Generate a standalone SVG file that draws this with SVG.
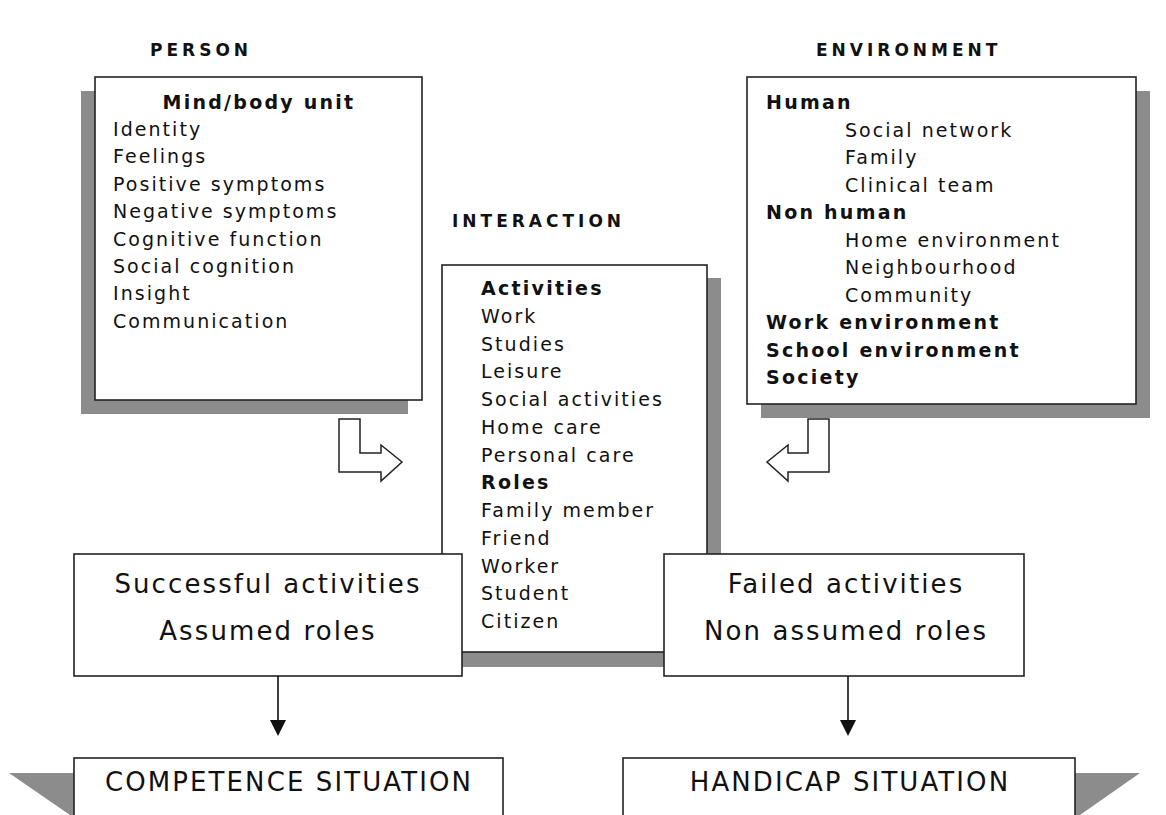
<svg xmlns="http://www.w3.org/2000/svg" width="1166" height="815" viewBox="0 0 1166 815">
  <style>
    .box { fill: #ffffff; stroke: #222222; stroke-width: 1.6; }
    .shadow { fill: #8c8c8c; stroke: none; }
    .blk { fill: #ffffff; stroke: #222222; stroke-width: 1.5; stroke-linejoin: miter; }
    .t { font-family: "DejaVu Sans", Verdana, sans-serif; font-size: 19px; letter-spacing: 2.05px; fill: #111111; }
    .b { font-weight: bold; letter-spacing: 2.25px; }
    .h { font-family: "DejaVu Sans", Verdana, sans-serif; font-size: 17px; font-weight: bold; letter-spacing: 4px; fill: #111111; }
    .big { font-family: "DejaVu Sans", Verdana, sans-serif; font-size: 26px; letter-spacing: 2.1px; fill: #111111; text-anchor: middle; }
    .line { stroke: #111111; stroke-width: 1.6; fill: none; }
    .head { fill: #111111; stroke: none; }
  </style>
  <rect width="1166" height="815" fill="#ffffff"/>

  <!-- column headings -->
  <text class="h" x="150" y="56">PERSON</text>
  <text class="h" x="816" y="56">ENVIRONMENT</text>
  <text class="h" x="452" y="227">INTERACTION</text>

  <!-- person -->
  <g id="person">
    <rect class="shadow" x="81" y="91" width="327" height="323"/>
    <rect class="box" x="95" y="77" width="327" height="323"/>
    <text class="t b" x="259" y="109" text-anchor="middle">Mind/body unit</text>
    <text class="t" x="113" y="136">Identity</text>
    <text class="t" x="113" y="163.4">Feelings</text>
    <text class="t" x="113" y="190.8">Positive symptoms</text>
    <text class="t" x="113" y="218.2">Negative symptoms</text>
    <text class="t" x="113" y="245.6">Cognitive function</text>
    <text class="t" x="113" y="273">Social cognition</text>
    <text class="t" x="113" y="300.4">Insight</text>
    <text class="t" x="113" y="327.8">Communication</text>
  </g>

  <!-- environment -->
  <g id="environment">
    <rect class="shadow" x="761" y="91" width="389" height="327"/>
    <rect class="box" x="747" y="77" width="389" height="327"/>
    <text class="t b" x="766" y="109">Human</text>
    <text class="t" x="845" y="136.5">Social network</text>
    <text class="t" x="845" y="164">Family</text>
    <text class="t" x="845" y="191.5">Clinical team</text>
    <text class="t b" x="766" y="219">Non human</text>
    <text class="t" x="845" y="246.5">Home environment</text>
    <text class="t" x="845" y="274">Neighbourhood</text>
    <text class="t" x="845" y="301.5">Community</text>
    <text class="t b" x="766" y="329">Work environment</text>
    <text class="t b" x="766" y="356.5">School environment</text>
    <text class="t b" x="766" y="384">Society</text>
  </g>

  <!-- interaction -->
  <g id="interaction">
    <rect class="shadow" x="456" y="278" width="265" height="389"/>
    <rect class="box" x="442" y="265" width="265" height="387"/>
    <text class="t b" x="481" y="295">Activities</text>
    <text class="t" x="481" y="322.75">Work</text>
    <text class="t" x="481" y="350.5">Studies</text>
    <text class="t" x="481" y="378.25">Leisure</text>
    <text class="t" x="481" y="406">Social activities</text>
    <text class="t" x="481" y="433.75">Home care</text>
    <text class="t" x="481" y="461.5">Personal care</text>
    <text class="t b" x="481" y="489.25">Roles</text>
    <text class="t" x="481" y="517">Family member</text>
    <text class="t" x="481" y="544.75">Friend</text>
    <text class="t" x="481" y="572.5">Worker</text>
    <text class="t" x="481" y="600.25">Student</text>
    <text class="t" x="481" y="628">Citizen</text>
  </g>

  <!-- block arrows into the interaction -->
  <g id="person-arrow">
    <polygon class="blk" points="339,419 360,419 360,453 381,453 381,445 402,462 381,481 381,472 339,472"/>
  </g>
  <g id="environment-arrow">
    <polygon class="blk" points="829,419 808,419 808,453 788,453 788,445 767,462 788,481 788,472 829,472"/>
  </g>

  <!-- outcomes -->
  <g id="successful">
    <rect class="box" x="74" y="554" width="388" height="122"/>
    <text class="big" x="268" y="593">Successful activities</text>
    <text class="big" x="268" y="640">Assumed roles</text>
  </g>
  <g id="failed">
    <rect class="box" x="664" y="554" width="360" height="122"/>
    <text class="big" x="846" y="593">Failed activities</text>
    <text class="big" x="846" y="640">Non assumed roles</text>
  </g>

  <!-- situations -->
  <g id="competence">
    <polygon class="shadow" points="9,773 74,773 74,815 70,815"/>
    <rect class="box" x="74" y="758" width="429" height="70"/>
    <text class="big" x="289" y="791">COMPETENCE SITUATION</text>
  </g>
  <g id="handicap">
    <polygon class="shadow" points="1075,773 1140,773 1080,815 1075,815"/>
    <rect class="box" x="623" y="758" width="452" height="70"/>
    <text class="big" x="850" y="791">HANDICAP SITUATION</text>
  </g>

  <!-- connectors -->
  <g id="connectors">
    <line class="line" x1="278" y1="676" x2="278" y2="722"/>
    <polygon class="head" points="270,720 286,720 278,736"/>
    <line class="line" x1="848" y1="676" x2="848" y2="722"/>
    <polygon class="head" points="840,720 856,720 848,736"/>
  </g>
</svg>
